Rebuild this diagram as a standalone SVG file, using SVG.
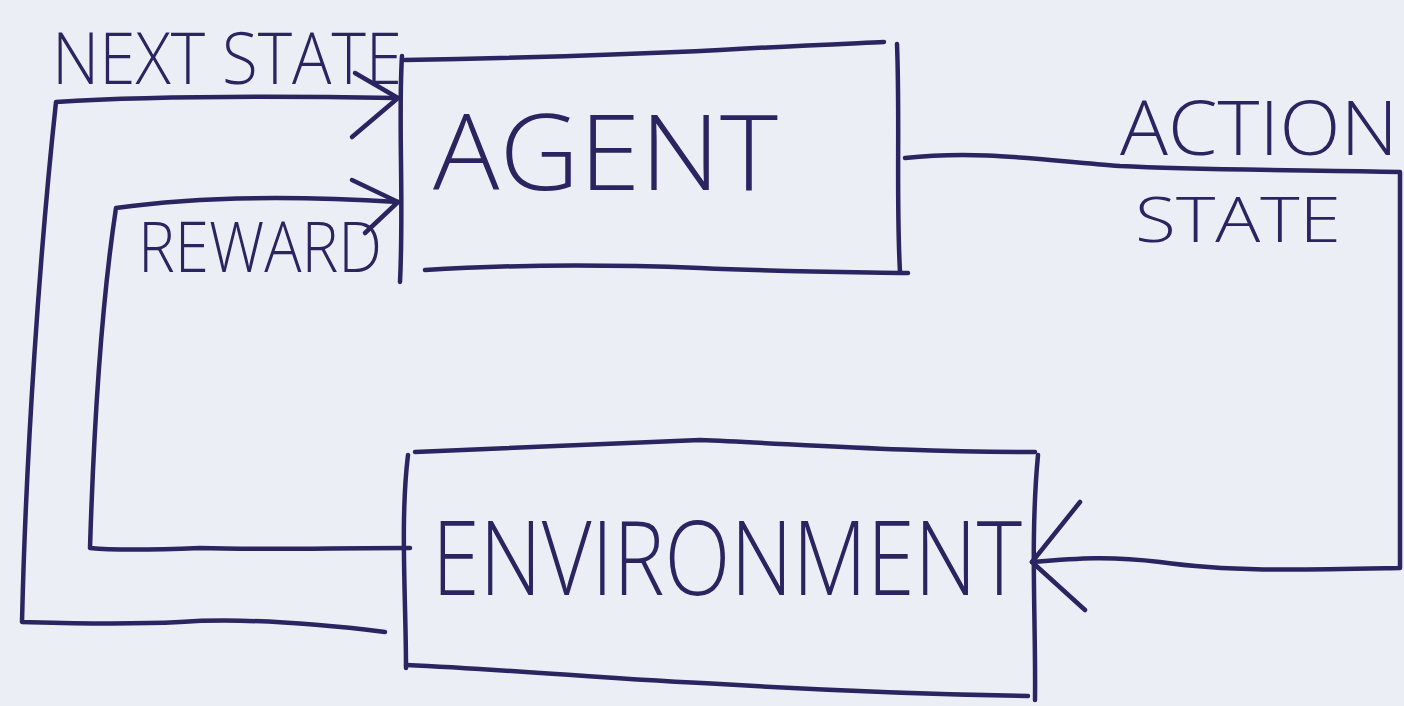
<svg xmlns="http://www.w3.org/2000/svg" width="1404" height="706" viewBox="0 0 1404 706">
<style>
.ink{fill:none;stroke:#2a2460;stroke-width:4.5;stroke-linecap:round;stroke-linejoin:round}
.lbl{fill:#2a2460;font-family:"Open Sans","Lato","DejaVu Sans",sans-serif;font-weight:300}
</style>
<rect x="0" y="0" width="1404" height="706" fill="#eceef5"/>
<g id="agent">
<path class="ink" d="M405,60 C520,58 640,54 720,50 C790,46 840,44 884,42"/>
<path class="ink" d="M897,44 C900,120 896,200 900,272"/>
<path class="ink" d="M425,270 C520,264 620,265 700,268 C790,272 850,272 908,273"/>
<path class="ink" d="M402,56 C398,120 404,200 400,282"/>
<text class="lbl" x="433" y="190" font-size="106" textLength="345" lengthAdjust="spacingAndGlyphs">AGENT</text>
</g>
<g id="environment">
<path class="ink" d="M415,452 C500,448 600,444 700,440 C800,444 900,452 1035,452"/>
<path class="ink" d="M1038,455 C1030,540 1036,620 1035,700"/>
<path class="ink" d="M406,665 C520,670 620,680 720,684 C820,690 920,694 1028,696"/>
<path class="ink" d="M408,455 C400,520 406,600 406,668"/>
<text class="lbl" x="432" y="595" font-size="104" textLength="590" lengthAdjust="spacingAndGlyphs">ENVIRONMENT</text>
</g>
<g id="connectors">
<path class="ink" d="M905,158 C980,150 1040,160 1120,166 C1200,170 1300,170 1400,172 L1400,568 C1300,570 1230,572 1160,562 C1110,556 1080,558 1032,562"/>
<polyline class="ink" points="1080,502 1032,562 1085,610"/>
<path class="ink" d="M385,632 C320,624 240,618 180,622 C120,625 60,623 22,622 C26,450 40,250 56,102 C150,96 280,96 396,98"/>
<polyline class="ink" points="355,73 398,98 352,137"/>
<path class="ink" d="M410,548 C330,548 260,550 200,548 C150,550 110,550 90,548 C94,420 102,300 116,208 C200,196 300,196 398,202"/>
<polyline class="ink" points="352,180 398,202 365,233"/>
</g>
<g id="labels">
<text class="lbl" x="52" y="84" font-size="72" textLength="350" lengthAdjust="spacingAndGlyphs">NEXT STATE</text>
<text class="lbl" x="138" y="272" font-size="70" textLength="244" lengthAdjust="spacingAndGlyphs">REWARD</text>
<text class="lbl" x="1120" y="155" font-size="76" textLength="278" lengthAdjust="spacingAndGlyphs">ACTION</text>
<text class="lbl" x="1135" y="242" font-size="62" textLength="206" lengthAdjust="spacingAndGlyphs">STATE</text>
</g>
</svg>
